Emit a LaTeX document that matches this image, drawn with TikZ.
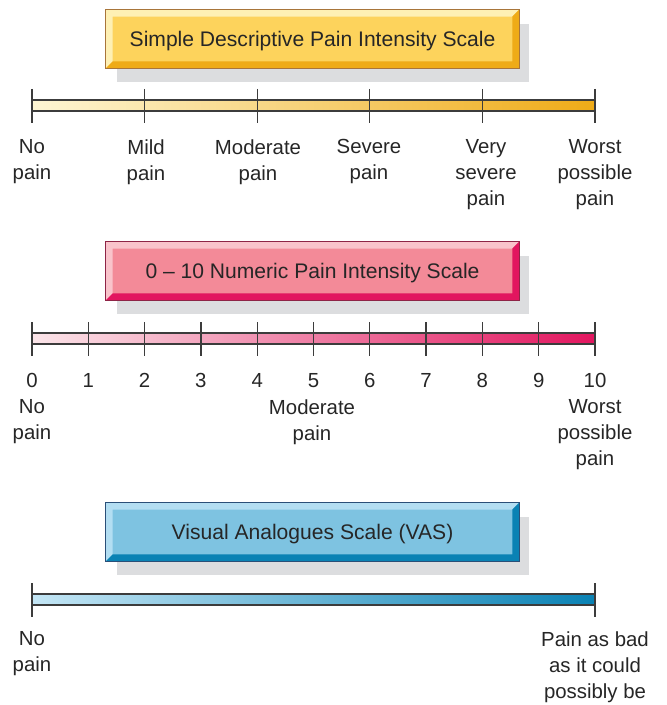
\documentclass[tikz,border=0pt]{standalone}
\usepackage{fontspec}
\setmainfont{Liberation Sans}
\usetikzlibrary{positioning,calc,shadows}
\definecolor{textcolor}{HTML}{262626}
\definecolor{shadowgray}{HTML}{DCDDDF}
\definecolor{barline}{HTML}{3C3C3C}
% gul
\definecolor{yelfill}{HTML}{FDD35C}
\definecolor{yellight}{HTML}{FEF0B4}
\definecolor{yeldark}{HTML}{EFAB17}
\definecolor{yelborder}{HTML}{A8753A}
\definecolor{yelstart}{HTML}{FEF6D4}
% rosa
\definecolor{pinkfill}{HTML}{F38A98}
\definecolor{pinklight}{HTML}{F9C3CB}
\definecolor{pinkdark}{HTML}{E2165F}
\definecolor{pinkborder}{HTML}{8E2446}
\definecolor{pinkstart}{HTML}{FBE5E9}
% bla
\definecolor{bluefill}{HTML}{7EC3E1}
\definecolor{bluelight}{HTML}{B3DEF2}
\definecolor{bluedark}{HTML}{0A82B4}
\definecolor{blueborder}{HTML}{2A4F78}
\definecolor{bluestart}{HTML}{C4E6F5}

% fasad runt en rubrikruta: #1 nod, #2 ljus, #3 mork, #4 kant
\newcommand{\bevel}[4]{%
  \fill[#2] (#1.south west) -- (#1.north west) -- (#1.north east) -- ($(#1.north east)+(-7,7)$) -- ($(#1.north west)+(7,7)$) -- ($(#1.south west)+(7,-7)$) -- cycle;
  \fill[#3] (#1.south west) -- (#1.south east) -- (#1.north east) -- ($(#1.north east)+(-7,7)$) -- ($(#1.south east)+(-7,-7)$) -- ($(#1.south west)+(7,-7)$) -- cycle;
  \draw[#4, line width=0.7pt] (#1.south west) rectangle (#1.north east);
}

\begin{document}
\begin{tikzpicture}[x=0.02cm, y=-0.02cm,
    titlebox/.style={rectangle, inner sep=0pt, minimum width=8.26cm, minimum height=1.16cm, text depth=0pt, text=textcolor, font=\fontsize{12}{14}\selectfont,
      drop shadow={shadow xshift=0.21cm, shadow yshift=-0.28cm, fill=shadowgray, opacity=1}},
    lbl/.style={inner sep=0pt, align=center, text=textcolor, font=\fontsize{11.6}{14.8}\selectfont},
    scalebar/.style={draw=barline, line width=0.8pt},
    tick/.style={draw=barline, line width=0.7pt}]
    \useasboundingbox (0,0) rectangle (666,705);

    % Rubriker
    \node (simple) [titlebox, fill=yelfill] at (312.5,39) {Simple Descriptive Pain Intensity Scale};
    \bevel{simple}{yellight}{yeldark}{yelborder}

    \node (numeric) [titlebox, fill=pinkfill] at (312.5,271) {0 -- 10 Numeric Pain Intensity Scale};
    \bevel{numeric}{pinklight}{pinkdark}{pinkborder}

    \node (vas) [titlebox, fill=bluefill] at (312.5,532) {Visual Analogues Scale (VAS)};
    \bevel{vas}{bluelight}{bluedark}{blueborder}

    % Skalorna
    \shade[scalebar, left color=yelstart, right color=yeldark] (32,100) rectangle (595,111);
    \foreach \i in {0,...,5}
        \draw[tick] ({32+112.6*\i},89) -- ++(0,34);

    \shade[scalebar, left color=pinkstart, right color=pinkdark] (32,333) rectangle (595,344);
    \foreach \i in {0,...,10}
        \draw[tick] ({32+56.3*\i},322) -- ++(0,34);

    \shade[scalebar, left color=bluestart, right color=bluedark] (32,594) rectangle (595,605);
    \draw[tick] (32,583) -- ++(0,34);
    \draw[tick] (595,583) -- ++(0,34);

    % Etiketter
    \node (nopainA) [lbl, anchor=north] at (32,139) {No\\pain};
    \node (mild) [lbl, anchor=north] at (146,139) {Mild\\pain};
    \node (moderateA) [lbl, anchor=north] at (258,139) {Moderate\\pain};
    \node (severe) [lbl, anchor=north] at (369,139) {Severe\\pain};
    \node (verysevere) [lbl, anchor=north] at (486,139) {Very\\severe\\pain};
    \node (worstA) [lbl, anchor=north] at (595,139) {Worst\\possible\\pain};

    \foreach \i in {0,...,10}
        \node (num\i) [lbl, anchor=north] at ({32+56.3*\i},373) {\i};
    \node (nopainB) [lbl, anchor=north] at (32,399) {No\\pain};
    \node (moderateB) [lbl, anchor=north] at (312,399) {Moderate\\pain};
    \node (worstB) [lbl, anchor=north] at (595,399) {Worst\\possible\\pain};

    \node (nopainC) [lbl, anchor=north] at (32,631) {No\\pain};
    \node (worstC) [lbl, anchor=north] at (595,631) {Pain as bad\\as it could\\possibly be};
\end{tikzpicture}
\end{document}
